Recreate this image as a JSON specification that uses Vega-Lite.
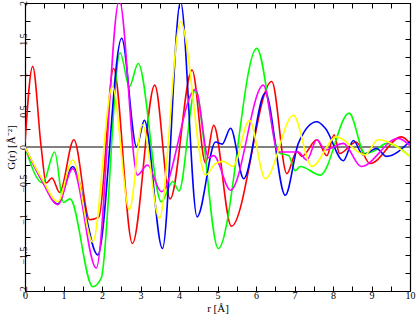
{
  "$schema": "https://vega.github.io/schema/vega-lite/v6.json",
  "width": 385,
  "height": 288,
  "autosize": {"type": "none"},
  "padding": {"left": 25, "top": 3, "right": 7, "bottom": 29},
  "background": "white",
  "config": {
    "view": {"stroke": null},
    "axis": {"labelFont": "Liberation Serif", "titleFont": "Liberation Serif", "labelFontSize": 10, "titleFontSize": 11, "titleFontWeight": "normal", "labelColor": "#000", "titleColor": "#000", "domainColor": "#000", "tickColor": "#000", "grid": false, "domainWidth": 1.2, "tickWidth": 1}
  },
  "datasets": {
    "curves": [
      {"s":"red","r":0,"g":0.05},{"s":"red","r":0.2,"g":1.12},{"s":"red","r":0.42,"g":0},{"s":"red","r":0.55,"g":-0.5},{"s":"red","r":0.7,"g":-0.43},{"s":"red","r":0.9,"g":-0.63},{"s":"red","r":1.27,"g":0.1},{"s":"red","r":1.68,"g":-1.01},{"s":"red","r":1.92,"g":-0.97},{"s":"red","r":2.3,"g":1.09},{"s":"red","r":2.79,"g":-1.34},{"s":"red","r":3.37,"g":0.86},{"s":"red","r":3.77,"g":-0.72},{"s":"red","r":4.34,"g":1.07},{"s":"red","r":4.69,"g":-0.22},{"s":"red","r":4.9,"g":0.3},{"s":"red","r":5.36,"g":-1.1},{"s":"red","r":6.41,"g":0.91},{"s":"red","r":6.8,"g":-0.37},{"s":"red","r":7.06,"g":-0.06},{"s":"red","r":7.19,"g":-0.13},{"s":"red","r":7.58,"g":0.1},{"s":"red","r":7.84,"g":-0.12},{"s":"red","r":8.03,"g":0.17},{"s":"red","r":8.17,"g":-0.09},{"s":"red","r":8.6,"g":0.07},{"s":"red","r":8.96,"g":-0.23},{"s":"red","r":9.78,"g":0.14},{"s":"red","r":10,"g":0.05},

      {"s":"green","r":0,"g":0},{"s":"green","r":0.46,"g":-0.5},{"s":"green","r":0.77,"g":-0.07},{"s":"green","r":1.0,"g":-0.77},{"s":"green","r":1.17,"g":-0.72},{"s":"green","r":1.76,"g":-1.94},{"s":"green","r":1.98,"g":-1.82},{"s":"green","r":2.47,"g":1.31},{"s":"green","r":2.71,"g":0.84},{"s":"green","r":2.94,"g":1.16},{"s":"green","r":3.54,"g":-0.76},{"s":"green","r":3.84,"g":-0.48},{"s":"green","r":4.0,"g":-0.61},{"s":"green","r":4.42,"g":0.79},{"s":"green","r":5.02,"g":-1.41},{"s":"green","r":6.02,"g":1.37},{"s":"green","r":6.6,"g":-0.08},{"s":"green","r":6.85,"g":-0.12},{"s":"green","r":7.02,"g":-0.33},{"s":"green","r":7.15,"g":-0.27},{"s":"green","r":7.67,"g":-0.39},{"s":"green","r":8.42,"g":0.47},{"s":"green","r":8.83,"g":-0.09},{"s":"green","r":9.05,"g":-0.06},{"s":"green","r":9.4,"g":0.05},{"s":"green","r":10,"g":-0.13},

      {"s":"blue","r":0,"g":0},{"s":"blue","r":0.45,"g":-0.47},{"s":"blue","r":0.85,"g":-0.79},{"s":"blue","r":1.24,"g":-0.27},{"s":"blue","r":1.89,"g":-1.5},{"s":"blue","r":2.51,"g":1.51},{"s":"blue","r":2.9,"g":0.0},{"s":"blue","r":3.1,"g":0.37},{"s":"blue","r":3.57,"g":-1.41},{"s":"blue","r":4.04,"g":2.02},{"s":"blue","r":4.47,"g":-0.97},{"s":"blue","r":4.95,"g":0.07},{"s":"blue","r":5.12,"g":0.04},{"s":"blue","r":5.34,"g":0.26},{"s":"blue","r":5.68,"g":-0.44},{"s":"blue","r":6.24,"g":0.75},{"s":"blue","r":6.76,"g":-0.67},{"s":"blue","r":7.1,"g":0.05},{"s":"blue","r":7.58,"g":0.35},{"s":"blue","r":7.8,"g":0.26},{"s":"blue","r":8.27,"g":-0.19},{"s":"blue","r":8.53,"g":0.09},{"s":"blue","r":8.78,"g":-0.11},{"s":"blue","r":9.13,"g":-0.02},{"s":"blue","r":9.39,"g":-0.13},{"s":"blue","r":10,"g":0.08},

      {"s":"magenta","r":0,"g":0},{"s":"magenta","r":0.45,"g":-0.48},{"s":"magenta","r":0.85,"g":-0.8},{"s":"magenta","r":1.24,"g":-0.3},{"s":"magenta","r":1.85,"g":-1.68},{"s":"magenta","r":2.45,"g":2.04},{"s":"magenta","r":2.92,"g":-0.39},{"s":"magenta","r":3.18,"g":-0.25},{"s":"magenta","r":3.54,"g":-0.62},{"s":"magenta","r":4.43,"g":0.8},{"s":"magenta","r":4.77,"g":-0.15},{"s":"magenta","r":4.9,"g":-0.12},{"s":"magenta","r":5.34,"g":-0.6},{"s":"magenta","r":6.19,"g":0.86},{"s":"magenta","r":6.58,"g":-0.07},{"s":"magenta","r":7.1,"g":-0.07},{"s":"magenta","r":7.32,"g":-0.18},{"s":"magenta","r":7.58,"g":0.1},{"s":"magenta","r":7.8,"g":-0.04},{"s":"magenta","r":8.27,"g":0.05},{"s":"magenta","r":8.73,"g":-0.27},{"s":"magenta","r":9.69,"g":0.12},{"s":"magenta","r":10,"g":0.02},

      {"s":"yellow","r":0,"g":0},{"s":"yellow","r":0.45,"g":-0.45},{"s":"yellow","r":0.85,"g":-0.76},{"s":"yellow","r":1.24,"g":-0.18},{"s":"yellow","r":1.76,"g":-1.32},{"s":"yellow","r":2.27,"g":0.84},{"s":"yellow","r":2.71,"g":-0.87},{"s":"yellow","r":3.05,"g":0.31},{"s":"yellow","r":3.49,"g":-0.99},{"s":"yellow","r":4.04,"g":1.74},{"s":"yellow","r":4.69,"g":-0.39},{"s":"yellow","r":4.95,"g":-0.23},{"s":"yellow","r":5.15,"g":-0.2},{"s":"yellow","r":5.4,"g":-0.27},{"s":"yellow","r":5.83,"g":0.37},{"s":"yellow","r":6.24,"g":-0.44},{"s":"yellow","r":6.97,"g":0.44},{"s":"yellow","r":7.45,"g":-0.27},{"s":"yellow","r":8.09,"g":0.14},{"s":"yellow","r":8.83,"g":-0.11},{"s":"yellow","r":9.17,"g":0.1},{"s":"yellow","r":10,"g":-0.13}
    ],
    "zero": [{"g": 0}]
  },
  "resolve": {"axis": {"x": "independent", "y": "independent"}},
  "layer": [
    {
      "data": {"name": "zero"},
      "mark": {"type": "rule", "color": "#808080", "strokeWidth": 2},
      "encoding": {
        "y": {"field": "g", "type": "quantitative", "scale": {"domain": [-2, 2]}, "axis": null}
      }
    },
    {
      "data": {"name": "curves"},
      "mark": {"type": "line", "interpolate": "monotone", "strokeWidth": 1.6, "clip": true},
      "encoding": {
        "x": {"field": "r", "type": "quantitative", "scale": {"domain": [0, 10], "nice": false},
          "axis": {"orient": "bottom", "title": "r [Å]", "format": "~g", "values": [0,0.5,1,1.5,2,2.5,3,3.5,4,4.5,5,5.5,6,6.5,7,7.5,8,8.5,9,9.5,10], "labelExpr": "datum.value % 1 == 0 ? datum.label : ''", "tickSize": -5, "labelPadding": 4, "titlePadding": 2, "labelFlush": false}},
        "y": {"field": "g", "type": "quantitative", "scale": {"domain": [-2, 2], "nice": false},
          "axis": {"orient": "left", "title": "G(r) [Å⁻²]", "format": "~g", "values": [-2,-1.75,-1.5,-1.25,-1,-0.75,-0.5,-0.25,0,0.25,0.5,0.75,1,1.25,1.5,1.75,2], "labelExpr": "datum.value % 0.5 == 0 ? datum.label : ''", "labelAngle": -90, "tickSize": -5, "labelPadding": 2, "titlePadding": 2, "labelFlush": false}},
        "color": {"field": "s", "type": "nominal", "scale": {"domain": ["red","green","blue","magenta","yellow"], "range": ["#ff0000","#00ff00","#0000ff","#ff00ff","#ffff00"]}, "legend": null}
      }
    },
    {
      "data": {"name": "curves"},
      "mark": {"type": "point", "opacity": 0},
      "encoding": {
        "x": {"field": "r", "type": "quantitative", "axis": {"orient": "top", "title": null, "labels": false, "values": [0,0.5,1,1.5,2,2.5,3,3.5,4,4.5,5,5.5,6,6.5,7,7.5,8,8.5,9,9.5,10], "tickSize": -5}},
        "y": {"field": "g", "type": "quantitative", "axis": {"orient": "right", "title": null, "labels": false, "values": [-2,-1.75,-1.5,-1.25,-1,-0.75,-0.5,-0.25,0,0.25,0.5,0.75,1,1.25,1.5,1.75,2], "tickSize": -5}}
      }
    }
  ]
}
